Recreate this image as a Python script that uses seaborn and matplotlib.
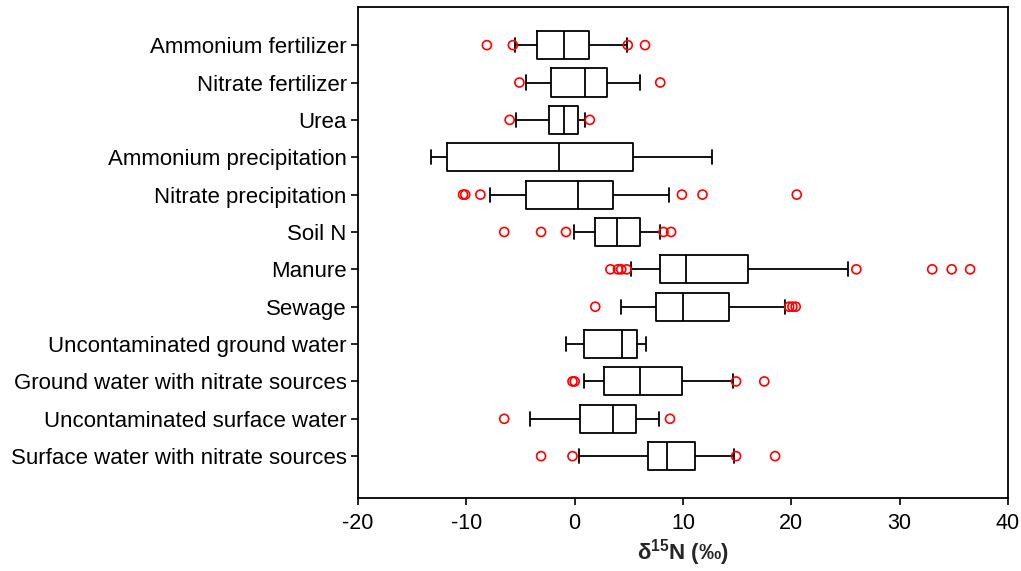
import numpy as np
import pandas as pd
import matplotlib
matplotlib.use("Agg")
import matplotlib.pyplot as plt
import seaborn as sns

categories = [
    "Ammonium fertilizer", "Nitrate fertilizer", "Urea", "Ammonium precipitation",
    "Nitrate precipitation", "Soil N", "Manure", "Sewage",
    "Uncontaminated ground water", "Ground water with nitrate sources",
    "Uncontaminated surface water", "Surface water with nitrate sources",
]
# five-number summaries: lower whisker, Q1, median, Q3, upper whisker
whisker_low = [-5.5, -4.5, -5.4, -13.3, -7.8, -0.1, 5.2, 4.3, -0.8, 0.9, -4.1, 0.4]
q1 = [-3.5, -2.2, -2.4, -11.8, -4.5, 1.9, 7.9, 7.5, 0.9, 2.7, 0.5, 6.8]
median = [-1.0, 1.0, -1.0, -1.4, 0.3, 3.9, 10.3, 10.0, 4.4, 6.0, 3.5, 8.5]
q3 = [1.3, 3.0, 0.3, 5.4, 3.5, 6.0, 16.0, 14.2, 5.8, 9.9, 5.7, 11.1]
whisker_high = [4.8, 6.0, 1.0, 12.7, 8.7, 7.9, 25.2, 19.4, 6.6, 14.6, 7.8, 14.7]
outliers = {
    "Ammonium fertilizer": [-8.1, -5.7, 4.9, 6.5],
    "Nitrate fertilizer": [-5.1, 7.9],
    "Urea": [-6.0, 1.4],
    "Ammonium precipitation": [],
    "Nitrate precipitation": [-10.3, -10.1, -8.7, 9.9, 11.8, 20.5],
    "Soil N": [-6.5, -3.1, -0.8, 8.2, 8.9],
    "Manure": [3.3, 4.0, 4.3, 4.8, 26.0, 33.0, 34.8, 36.5],
    "Sewage": [1.9, 19.8, 20.1, 20.4],
    "Uncontaminated ground water": [],
    "Ground water with nitrate sources": [-0.2, 0.0, 14.9, 17.5],
    "Uncontaminated surface water": [-6.5, 8.8],
    "Surface water with nitrate sources": [-3.1, -0.2, 14.9, 18.5],
}
xticks = [-20, -10, 0, 10, 20, 30, 40]

box_rows = []
for i, c in enumerate(categories):
    for v in (whisker_low[i], q1[i], median[i], q3[i], whisker_high[i]):
        box_rows.append({"source": c, "d15N": v})
box_df = pd.DataFrame(box_rows)
out_df = pd.DataFrame([{"source": c, "d15N": v} for c in categories for v in outliers[c]])

sns.set_style("ticks")
plt.rcParams["font.family"] = ["Liberation Sans", "DejaVu Sans"]
plt.rcParams["mathtext.fontset"] = "custom"
plt.rcParams["mathtext.rm"] = "Liberation Sans"
plt.rcParams["mathtext.bf"] = "Liberation Sans:bold"

fig = plt.figure(figsize=(10.21, 5.71), dpi=100)
ax = fig.add_axes([0.3506, 0.1278, 0.6367, 0.8599])

sns.boxplot(data=box_df, x="d15N", y="source", order=categories, orient="h",
            whis=(0, 100), width=0.75, fill=False, color="black", linewidth=1.3,
            showfliers=False, ax=ax,
            medianprops={"color": "black", "linewidth": 1.3})
n_before = len(ax.collections)
sns.stripplot(data=out_df, x="d15N", y="source", order=categories, orient="h",
              jitter=False, size=6.5, linewidth=1.2, edgecolor="red", color="red",
              ax=ax)
for coll in ax.collections[n_before:]:
    coll.set_facecolor("none")
    coll.set_edgecolor("red")
    coll.set_linewidth(1.2)

ax.set_xlim(-20, 40)
ax.set_xticks(xticks)
ax.set_xticklabels([str(t) for t in xticks])
ax.set_ylim(11 + 1.12, -1.02)
ax.set_ylabel("")
ax.set_xlabel(r"δ$^{\mathbf{15}}$N (‰)", fontsize=16, fontweight="bold", labelpad=2)
ax.tick_params(axis="both", direction="out", length=5, width=1.2, colors="black")
ax.tick_params(axis="y", labelsize=16, pad=3)
ax.tick_params(axis="x", labelsize=15.5, pad=6)
for s in ax.spines.values():
    s.set_visible(True)
    s.set_color("black")
    s.set_linewidth(1.3)

fig.savefig("out.png", dpi=100)
